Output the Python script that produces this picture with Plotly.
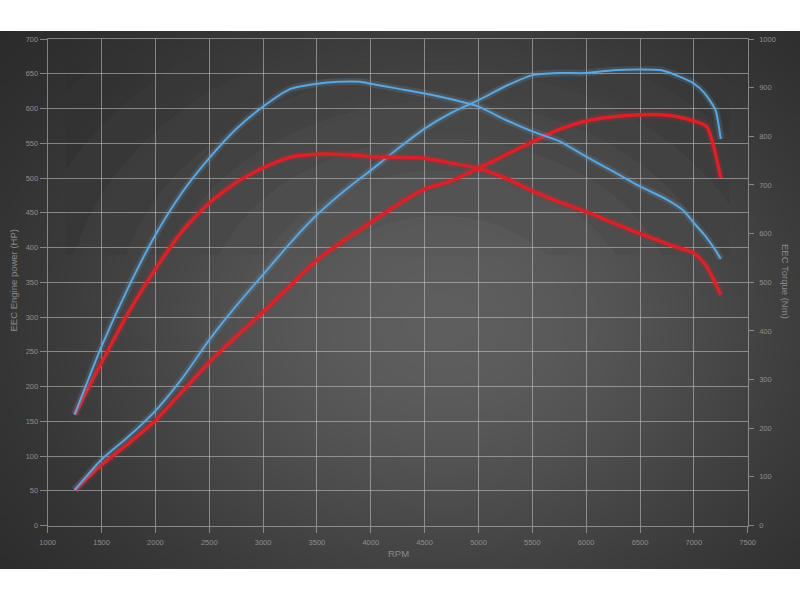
import numpy as np
import plotly.graph_objects as go

# Dyno run: engine power (HP) and torque (Nm) against engine speed (RPM)
rpm_hp_tuned = [1250, 1500, 1750, 2000, 2250, 2500, 2750, 3000, 3250, 3500, 3750, 4000,
                4250, 4500, 4750, 5000, 5250, 5500, 5750, 6000, 6250, 6500, 6700, 6850,
                7000, 7100, 7200, 7250]
hp_tuned = [51, 95, 128, 165, 212, 267, 316, 361, 406, 447, 481, 511,
            542, 571, 594, 612, 632, 648, 651, 651, 655, 656, 655, 647,
            636, 622, 598, 556]

rpm_hp_stock = [1250, 1500, 1750, 2000, 2250, 2500, 2750, 3000, 3250, 3500, 3750, 4000,
                4250, 4500, 4750, 5000, 5250, 5500, 5750, 6000, 6250, 6500, 6700, 6850,
                7000, 7120, 7250]
hp_stock = [51, 87, 118, 151, 193, 235, 272, 307, 345, 382, 410, 436,
            462, 484, 496, 514, 533, 552, 570, 582, 588, 591, 591, 588,
            582, 574, 500]

rpm_nm_tuned = [1250, 1500, 1750, 2000, 2250, 2500, 2750, 3000, 3250, 3500, 3700, 3900,
                4000, 4250, 4500, 4750, 5000, 5250, 5500, 5750, 6000, 6250, 6500, 6750,
                6900, 7000, 7100, 7200, 7250]
nm_tuned = [228, 368, 490, 597, 685, 755, 815, 861, 897, 908, 912, 912,
            908, 898, 888, 876, 861, 834, 810, 790, 758, 728, 697, 670,
            648, 622, 597, 566, 548]

rpm_nm_stock = [1250, 1500, 1750, 2000, 2250, 2500, 2750, 3000, 3250, 3500, 3800, 4000,
                4250, 4500, 4750, 5000, 5250, 5500, 5750, 6000, 6250, 6450, 6600, 6800,
                7000, 7120, 7250]
nm_stock = [228, 335, 438, 527, 605, 663, 705, 735, 757, 763, 762, 758,
            757, 755, 745, 734, 714, 688, 665, 645, 622, 604, 592, 575,
            560, 532, 474]

x_ticks = list(range(1000, 7501, 500))
hp_ticks = list(range(0, 701, 50))
nm_ticks = list(range(0, 1001, 100))

W, H = 800, 600
BAND_TOP, BAND_BOTTOM = 31, 569

# Radial vignette for the dark panel, on a pixel-space background axis.
# Cell edges span the band exactly; shading is sampled at cell centres.
edges_x = np.linspace(0, W, 101)
edges_y = np.linspace(BAND_TOP, BAND_BOTTOM, 69)
cx = (edges_x[:-1] + edges_x[1:]) / 2
cy = (edges_y[:-1] + edges_y[1:]) / 2
GX, GY = np.meshgrid(cx, cy)
dist2 = ((GX - 440) / 560.0) ** 2 + ((GY - 320) / 430.0) ** 2
shade = 36 + 58 * np.exp(-2.0 * dist2)

# Plot-area geometry in paper fractions
x0, x1 = 47.7 / W, 747.7 / W
y0, y1 = 1 - 525.5 / H, 1 - 39 / H

grid_col = "rgba(200,200,200,0.55)"
FONT = "Liberation Sans, Arial, sans-serif"
tick_font = dict(family=FONT, size=7.5, color="#8e8e8e")
title_font = dict(family=FONT, size=9.5, color="#8a8a8a")

BLUE = "#5fa6dc"
RED = "#d8232b"

fig = go.Figure()

fig.add_trace(go.Heatmap(x=edges_x, y=edges_y, z=shade, xaxis="x", yaxis="y",
                         colorscale=[[0, "rgb(36,36,36)"], [1, "rgb(94,94,94)"]],
                         zmin=36, zmax=94, zsmooth="best", showscale=False,
                         hoverinfo="skip"))


def add_curve(xs, ys, color, width, yaxis):
    # soft halo under the line
    fig.add_trace(go.Scatter(x=xs, y=ys, xaxis="x2", yaxis=yaxis, mode="lines",
                             line=dict(color=color, width=width + 5, shape="spline", smoothing=0.6),
                             opacity=0.18, hoverinfo="skip", showlegend=False))
    fig.add_trace(go.Scatter(x=xs, y=ys, xaxis="x2", yaxis=yaxis, mode="lines",
                             line=dict(color=color, width=width, shape="spline", smoothing=0.6),
                             showlegend=False))


add_curve(rpm_nm_stock, nm_stock, RED, 3.5, "y3")
add_curve(rpm_hp_stock, hp_stock, RED, 3.5, "y2")
add_curve(rpm_nm_tuned, nm_tuned, BLUE, 2, "y3")
add_curve(rpm_hp_tuned, hp_tuned, BLUE, 2, "y2")

fig.update_layout(
    width=W, height=H,
    margin=dict(l=0, r=0, t=0, b=0, autoexpand=False),
    paper_bgcolor="white",
    plot_bgcolor="rgba(0,0,0,0)",
    showlegend=False,
    # background axes in pixel units
    xaxis=dict(domain=[0, 1], range=[0, W], visible=False, fixedrange=True, automargin=False),
    yaxis=dict(domain=[0, 1], range=[H, 0], visible=False, fixedrange=True, automargin=False),
    xaxis2=dict(domain=[x0, x1], range=[1000, 7500], tickvals=x_ticks, anchor="y2",
                showgrid=True, gridcolor=grid_col, gridwidth=1, automargin=False,
                showline=True, linecolor=grid_col, linewidth=1, mirror=True,
                ticks="outside", ticklen=6, tickcolor=grid_col, ticklabelstandoff=3,
                tickfont=tick_font, zeroline=False),
    yaxis2=dict(domain=[y0, y1], range=[0, 700], tickvals=hp_ticks, anchor="x2",
                showgrid=True, gridcolor=grid_col, gridwidth=1, automargin=False,
                showline=True, linecolor=grid_col, linewidth=1, mirror=True,
                ticks="outside", ticklen=7, tickcolor=grid_col,
                tickfont=tick_font, zeroline=False),
    yaxis3=dict(overlaying="y2", anchor="x2", side="right", range=[0, 1000], tickvals=nm_ticks,
                showgrid=False, zeroline=False, showline=False, automargin=False,
                ticks="outside", ticklen=5, tickcolor=grid_col, ticklabelstandoff=4,
                tickfont=tick_font),
    annotations=[
        dict(text="RPM", xref="paper", yref="paper", x=398 / W, y=1 - 553 / H,
             xanchor="center", yanchor="middle", showarrow=False, font=title_font),
        dict(text="EEC Engine power (HP)", xref="paper", yref="paper",
             x=13.5 / W, y=1 - 281 / H, xanchor="center", yanchor="middle",
             showarrow=False, textangle=-90, font=title_font),
        dict(text="EEC Torque (Nm)", xref="paper", yref="paper",
             x=785 / W, y=1 - 281 / H, xanchor="center", yanchor="middle",
             showarrow=False, textangle=90, font=title_font),
    ],
)

fig.write_html("out.html")
